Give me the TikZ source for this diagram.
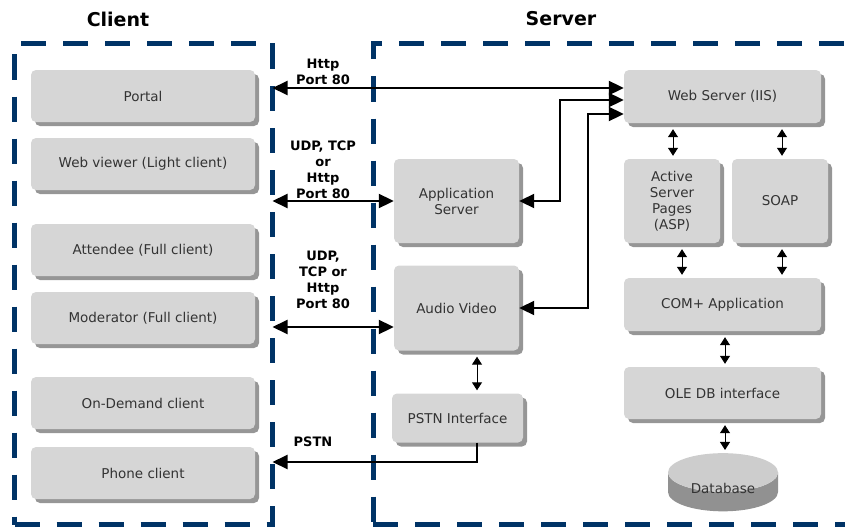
\documentclass[tikz,border=0pt]{standalone}
\usepackage{fontspec}
\setmainfont{DejaVu Sans}
\usepackage{xcolor}
\usetikzlibrary{positioning,arrows.meta,shadows,shapes.geometric}
\definecolor{navy}{RGB}{0,51,102}
\definecolor{boxgray}{RGB}{214,214,214}
\definecolor{shadegray}{RGB}{150,150,150}
\definecolor{dbbody}{RGB}{145,145,145}
\definecolor{dbtop}{RGB}{205,205,205}

\begin{document}
\begin{tikzpicture}[x=1pt, y=-1pt,
  font=\fontsize{13.5}{16}\selectfont,
  box/.style={fill=boxgray, rounded corners=5pt, align=center, text=black!80, inner sep=2pt,
    drop shadow={shadow xshift=4pt, shadow yshift=-4pt, fill=shadegray, opacity=1}},
  cbox/.style={box, minimum width=224pt, minimum height=52pt},
  zone/.style={draw=navy, line width=5pt, dash pattern=on 25pt off 17pt, outer sep=0pt, anchor=north west},
  lbl/.style={font=\fontsize{13}{16}\selectfont\bfseries, align=center, inner sep=1pt},
  ttl/.style={font=\fontsize{19}{22}\selectfont\bfseries},
  bigarr/.style={{Triangle[length=15pt,width=14pt]}-{Triangle[length=15pt,width=14pt]}, line width=2pt},
  onearr/.style={-{Triangle[length=15pt,width=14pt]}, line width=2pt},
  smallarr/.style={{Triangle[length=8pt,width=10pt]}-{Triangle[length=8pt,width=10pt]}, line width=1pt,
    shorten <=6pt, shorten >=3pt}]
\useasboundingbox (0,0) rectangle (845,527);
\clip (0,0) rectangle (845,527);

% zones
\node[zone, minimum width=258pt, minimum height=481pt] (clientzone) at (14.5,43.5) {};
\node[zone, minimum width=520pt, minimum height=481pt] (serverzone) at (373,43.5) {};
\node[ttl] (clienttitle) at (118,19) {Client};
\node[ttl] (servertitle) at (561,19) {Server};

% client side
\node[cbox] (portal) at (143,96) {Portal};
\node[cbox] (webview) at (143,164) {Web viewer (Light client)};
\node[cbox] (attendee) at (143,250) {Attendee (Full client)};
\node[cbox] (moderator) at (143,318) {Moderator (Full client)};
\node[cbox] (ondemand) at (143,403) {On-Demand client};
\node[cbox] (phone) at (143,473) {Phone client};

% server side
\node[box, minimum width=125pt, minimum height=84pt] (app) at (456.5,201) {Application\\Server};
\node[box, minimum width=125pt, minimum height=85pt] (av) at (456.5,308) {Audio Video};
\node[box, minimum width=131pt, minimum height=49pt] (pstn) at (457.5,418) {PSTN Interface};
\node[box, minimum width=197pt, minimum height=53pt] (web) at (722.5,96.5) {Web Server (IIS)};
\node[box, minimum width=96pt, minimum height=84pt] (asp) at (672,201) {Active\\Server\\Pages\\(ASP)};
\node[box, minimum width=96pt, minimum height=84pt] (soap) at (780,201) {SOAP};
\node[box, minimum width=197pt, minimum height=53pt] (com) at (722.5,304.5) {COM+ Application};
\node[box, minimum width=197pt, minimum height=52pt] (ole) at (722.5,393) {OLE DB interface};
\node[cylinder, shape border rotate=90, aspect=0.6, minimum width=110pt, minimum height=28pt,
  cylinder uses custom fill, cylinder body fill=dbbody, cylinder end fill=dbtop,
  text=black!80, inner sep=0pt] (db) at (723,492) {\raisebox{-1.5pt}[0pt][0pt]{Database}};

% connectors
\coordinate (webin) at ([yshift=8.5pt]web.west);
\coordinate (bendapp) at (560,100);
\coordinate (bendav) at (588,114);
\coordinate (avin) at ([yshift=-19pt]av.west);
\coordinate (pstnturn) at (477,462);
\draw[bigarr] (clientzone.east |- webin) -- (webin);
\draw[bigarr] (app.east) -| (bendapp) -- (web.west |- bendapp);
\draw[bigarr] (av.east) -| (bendav) -- (web.west |- bendav);
\draw[bigarr] (clientzone.east |- app.west) -- (app.west);
\draw[bigarr] (clientzone.east |- avin) -- (avin);
\draw[onearr] (pstnturn |- pstn.south) |- (clientzone.east |- pstnturn);
\foreach \a/\b/\x in {web/asp/673, web/soap/782, asp/com/682, soap/com/782, com/ole/725, ole/db/725, av/pstn/477}
  \draw[smallarr] (\a.south -| \x,0) -- (\b.north -| \x,0);

% labels
\node[lbl, anchor=south] (lhttp) at (323,86) {Http\\Port 80};
\node[lbl, anchor=south] (ludp) at (323,200) {UDP, TCP\\or\\Http\\Port 80};
\node[lbl, anchor=south] (ludptwo) at (323,310) {UDP,\\TCP or\\Http\\Port 80};
\node[lbl] (lpstn) at (313,442) {PSTN};
\end{tikzpicture}
\end{document}
